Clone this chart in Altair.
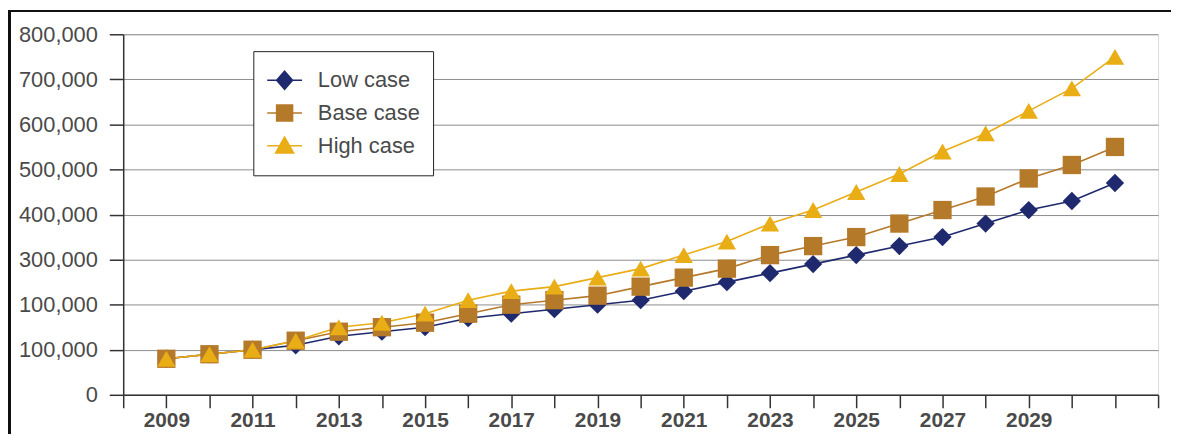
import altair as alt
import pandas as pd

years = list(range(2009, 2032))
series_names = ["Low case", "Base case", "High case"]
low = [80000, 90000, 100000, 110000, 130000, 140000, 150000, 170000, 180000, 190000, 200000, 210000,
       230000, 250000, 270000, 290000, 310000, 330000, 350000, 380000, 410000, 430000, 470000]
base = [80000, 90000, 100000, 120000, 140000, 150000, 160000, 180000, 200000, 210000, 220000, 240000,
        260000, 280000, 310000, 330000, 350000, 380000, 410000, 440000, 480000, 510000, 550000]
high = [80000, 90000, 100000, 120000, 150000, 160000, 180000, 210000, 230000, 240000, 260000, 280000,
        310000, 340000, 380000, 410000, 450000, 490000, 540000, 580000, 630000, 680000, 750000]
colors = ["#1f2a6e", "#b5792a", "#e9ad15"]
y_ticks = [0, 100000, 200000, 300000, 400000, 500000, 600000, 700000, 800000]
x_ticks = list(range(2008, 2033))

rows = []
for name, vals in zip(series_names, [low, base, high]):
    for yr, v in zip(years, vals):
        rows.append({"year": yr, "value": v, "series": name})
df = pd.DataFrame(rows)

FONT = "Liberation Sans"
GREY = "#4a4a4a"
FS = 22

x_enc = alt.X("year:Q", title=None,
              scale=alt.Scale(domain=[2008, 2032], nice=False, zero=False),
              axis=alt.Axis(values=x_ticks, grid=False, tickSize=13, labelPadding=2,
                            labelExpr="(datum.value % 2 == 1 && datum.value <= 2029) ? datum.value : ''",
                            labelFont=FONT, labelFontSize=FS - 1, labelFontWeight="bold", labelColor=GREY,
                            labelFlush=False, labelOverlap=False,
                            domainColor="#333333", domainWidth=1.5, tickColor="#333333", tickWidth=1.5))
y_enc = alt.Y("value:Q", title=None,
              scale=alt.Scale(domain=[0, 800000], nice=False),
              axis=alt.Axis(values=y_ticks, grid=True, gridColor="#8c8c8c", gridWidth=1,
                            tickSize=14, labelPadding=12,
                            labelExpr="datum.value == 200000 ? '100,000' : format(datum.value, ',')",
                            labelFont=FONT, labelFontSize=FS, labelColor=GREY,
                            domainColor="#333333", domainWidth=1.5, tickColor="#333333", tickWidth=1.5))

color_scale = alt.Scale(domain=series_names, range=colors)

lines = alt.Chart(df).mark_line(strokeWidth=1.6).encode(
    x=x_enc, y=y_enc,
    color=alt.Color("series:N", scale=color_scale, legend=None),
    detail="series:N",
)

points = alt.Chart(df).mark_point(filled=True, size=340, opacity=1, strokeWidth=0.6).encode(
    x=x_enc, y=y_enc,
    color=alt.Color("series:N", scale=color_scale, legend=None),
    shape=alt.Shape("series:N", scale=alt.Scale(domain=series_names,
                                                range=["diamond", "square", "triangle-up"]), legend=None),
)

legend_paths = [
    "M-1,0H1M0,-0.52L0.46,0L0,0.52L-0.46,0Z",
    "M-1,0H1M-0.46,-0.46H0.46V0.46H-0.46Z",
    "M-1,0H1M0,-0.5L0.52,0.42H-0.52Z",
]

leg = alt.Legend(title=None, orient="none", legendX=131, legendY=17,
                 symbolSize=1225, symbolStrokeWidth=1.5, symbolOpacity=1,
                 labelFont=FONT, labelFontSize=FS, labelColor=GREY, labelOffset=15,
                 padding=13, rowPadding=0, clipHeight=32.5,
                 strokeColor="#222222", fillColor="white")

legend_layer = alt.Chart(df).mark_point(opacity=0).encode(
    x=x_enc, y=y_enc,
    fill=alt.Fill("series:N", scale=alt.Scale(domain=series_names, range=colors), legend=leg),
    stroke=alt.Stroke("series:N", scale=alt.Scale(domain=series_names, range=colors), legend=leg),
    shape=alt.Shape("series:N", scale=alt.Scale(domain=series_names, range=legend_paths), legend=leg),
)

frame = alt.Chart(df).mark_rect(fill=None, stroke="#111111", strokeWidth=2).encode(
    x=alt.value(-114.5), x2=alt.value(1080), y=alt.value(-23.5), y2=alt.value(440)
)

chart = alt.layer(lines, points, legend_layer, frame).resolve_scale(
    color="independent", shape="independent", fill="independent", stroke="independent"
).properties(
    width=1042, height=363,
    autosize=alt.AutoSizeParams(type="none"),
    padding={"left": 116, "top": 25, "right": 13, "bottom": 38},
).configure_view(stroke="#7a7a7a", strokeWidth=1.5).configure(background="white")

chart.save("out.html", embed_options={"renderer": "svg", "actions": False})
